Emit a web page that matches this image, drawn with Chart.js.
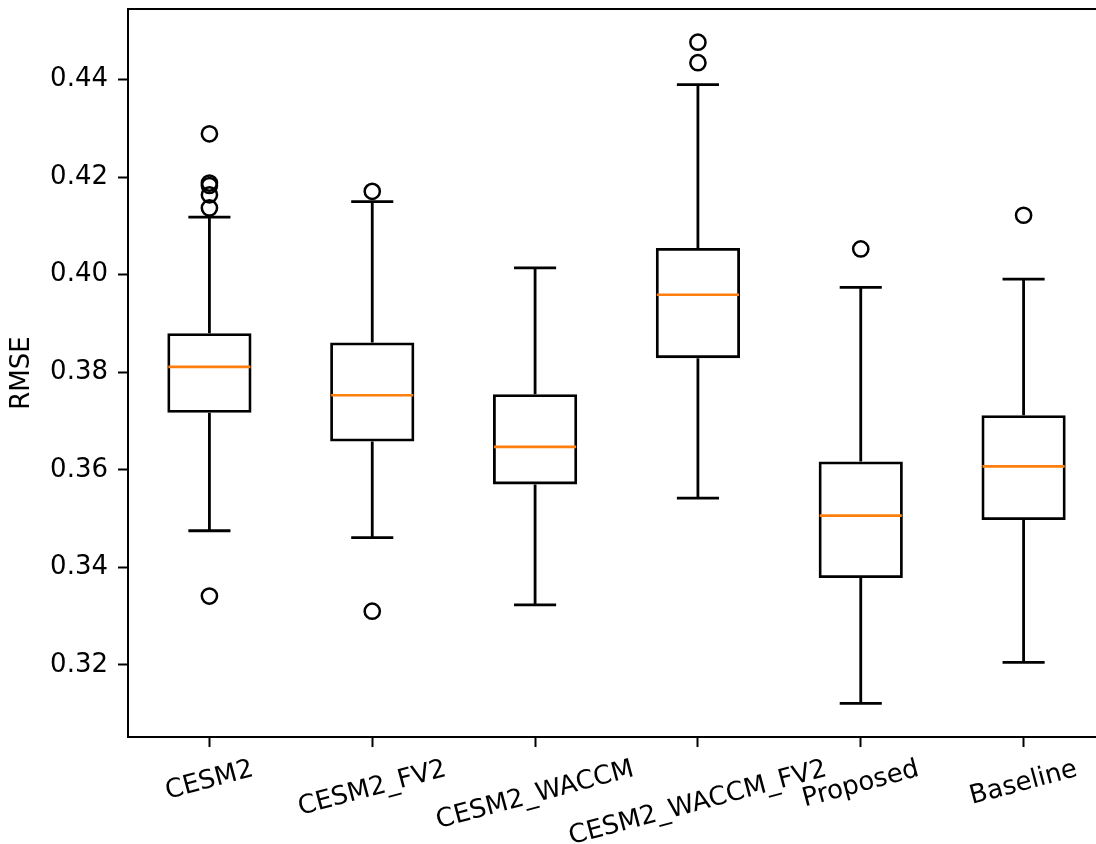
<!DOCTYPE html>
<html>
<head>
<meta charset="utf-8">
<script src="https://cdn.jsdelivr.net/npm/chart.js@4.4.0/dist/chart.umd.min.js"></script>
<style>
  html, body { margin: 0; padding: 0; background: #fff; overflow: hidden; }
  #wrap { width: 1096px; height: 844px; }
</style>
</head>
<body>
<div id="wrap"><canvas id="myChart" width="1096" height="844"></canvas></div>
<script>
// box statistics
const models = ["CESM2", "CESM2_FV2", "CESM2_WACCM", "CESM2_WACCM_FV2", "Proposed", "Baseline"];
const whiskerLow = [0.3475, 0.3461, 0.3323, 0.3542, 0.3121, 0.3205];
const q1 = [0.3717, 0.3658, 0.3570, 0.3829, 0.3378, 0.3497];
const medians = [0.3811, 0.3753, 0.3647, 0.3959, 0.3506, 0.3607];
const q3 = [0.3880, 0.3861, 0.3755, 0.4055, 0.3617, 0.3712];
const whiskerHigh = [0.4118, 0.4150, 0.4014, 0.4390, 0.3974, 0.3991];
const outliers = [
  [0.4289, 0.4188, 0.4183, 0.4164, 0.4137, 0.3341],
  [0.4171, 0.3310],
  [],
  [0.4477, 0.4435],
  [0.4053],
  [0.4122]
];
const yTicks = [0.32, 0.34, 0.36, 0.38, 0.40, 0.42, 0.44];
const positions = [1, 2, 3, 4, 5, 6];

const outlierPoints = [];
outliers.forEach((list, i) => {
  list.forEach((v) => outlierPoints.push({ x: positions[i], y: v }));
});

const FONT_SIZE = 26;
Chart.defaults.font.family = "'DejaVu Sans'";
Chart.defaults.font.size = FONT_SIZE;
Chart.defaults.color = "#000";

// whiskers, caps and medians
const whiskerPlugin = {
  id: "whiskers",
  afterDatasetsDraw(chart) {
    const ctx = chart.ctx;
    const xs = chart.scales.x;
    const ys = chart.scales.y;
    const bars = chart.getDatasetMeta(0).data;
    ctx.save();
    models.forEach((m, i) => {
      const x = xs.getPixelForValue(positions[i]);
      const half = bars[i].width / 2;
      const cap = half / 2;
      ctx.lineWidth = 2.8;
      ctx.strokeStyle = "#000";
      ctx.beginPath();
      ctx.moveTo(x, ys.getPixelForValue(q3[i]));
      ctx.lineTo(x, ys.getPixelForValue(whiskerHigh[i]));
      ctx.moveTo(x, ys.getPixelForValue(q1[i]));
      ctx.lineTo(x, ys.getPixelForValue(whiskerLow[i]));
      ctx.moveTo(x - cap, ys.getPixelForValue(whiskerHigh[i]));
      ctx.lineTo(x + cap, ys.getPixelForValue(whiskerHigh[i]));
      ctx.moveTo(x - cap, ys.getPixelForValue(whiskerLow[i]));
      ctx.lineTo(x + cap, ys.getPixelForValue(whiskerLow[i]));
      ctx.stroke();
      ctx.strokeStyle = "#ff7f0e";
      ctx.lineWidth = 2.6;
      ctx.beginPath();
      ctx.moveTo(x - half + 1, ys.getPixelForValue(medians[i]));
      ctx.lineTo(x + half - 1, ys.getPixelForValue(medians[i]));
      ctx.stroke();
    });
    ctx.restore();
  }
};

// spines (right one is off the picture) + rotated category labels
const framePlugin = {
  id: "frame",
  afterDraw(chart) {
    const ctx = chart.ctx;
    const a = chart.chartArea;
    const xs = chart.scales.x;
    ctx.save();
    ctx.strokeStyle = "#000";
    ctx.lineWidth = 2;
    ctx.beginPath();
    ctx.moveTo(chart.width + 5, a.top);
    ctx.lineTo(a.left, a.top);
    ctx.lineTo(a.left, a.bottom);
    ctx.lineTo(chart.width + 5, a.bottom);
    ctx.stroke();

    const ang = 15 * Math.PI / 180;
    const top = a.bottom + 17.5;
    ctx.font = FONT_SIZE + "px 'DejaVu Sans'";
    ctx.fillStyle = "#000";
    ctx.textAlign = "center";
    ctx.textBaseline = "middle";
    models.forEach((m, i) => {
      const w = ctx.measureText(m).width;
      const bh = w * Math.sin(ang) + FONT_SIZE * 1.16 * Math.cos(ang);
      ctx.save();
      ctx.translate(xs.getPixelForValue(positions[i]), top + bh / 2);
      ctx.rotate(-ang);
      ctx.fillText(m, 0, 0);
      ctx.restore();
    });
    ctx.restore();
  }
};

new Chart("myChart", {
  type: "bar",
  data: {
    datasets: [
      {
        type: "bar",
        data: models.map((m, i) => ({ x: positions[i], y: [q1[i], q3[i]] })),
        backgroundColor: "rgba(0,0,0,0)",
        borderColor: "#000",
        borderWidth: 2.8,
        borderSkipped: false,
        barPercentage: 0.517,
        categoryPercentage: 1,
      },
      {
        type: "scatter",
        data: outlierPoints,
        pointStyle: "circle",
        pointRadius: 7.6,
        pointBorderWidth: 2.5,
        pointBackgroundColor: "rgba(0,0,0,0)",
        pointBorderColor: "#000",
      },
    ],
  },
  options: {
    responsive: false,
    animation: false,
    layout: { autoPadding: false, padding: { top: 9, right: 0, bottom: 0, left: 0 } },
    plugins: { legend: { display: false }, tooltip: { enabled: false } },
    scales: {
      x: {
        type: "linear",
        // matplotlib xlim 0.5..6.5, cut by the picture's right edge
        min: 0.5,
        max: 6.4447,
        offset: false,
        border: { display: false },
        grid: { display: true, offset: false, drawOnChartArea: false, drawTicks: true, tickLength: 10, tickWidth: 2, tickColor: "#000" },
        ticks: { display: false },
        afterBuildTicks: (scale) => {
          scale.ticks = positions.map((v) => ({ value: v }));
        },
        afterFit: (scale) => {
          scale.height = 107;
          scale.paddingLeft = 0;
          scale.paddingRight = 0;
        },
      },
      y: {
        min: 0.3052,
        max: 0.4545,
        border: { display: false },
        grid: { drawOnChartArea: false, drawTicks: true, tickLength: 10, tickWidth: 2, tickColor: "#000" },
        ticks: {
          padding: 10,
          color: "#000",
          font: { size: FONT_SIZE },
          callback: (v) => Number(v).toFixed(2),
        },
        afterBuildTicks: (scale) => {
          scale.ticks = yTicks.map((v) => ({ value: v }));
        },
        title: { display: true, text: "RMSE", color: "#000", font: { size: FONT_SIZE }, padding: { top: 7, bottom: 0 } },
        afterFit: (scale) => {
          scale.width = 128;
          scale.paddingTop = 0;
          scale.paddingBottom = 0;
        },
      },
    },
  },
  plugins: [whiskerPlugin, framePlugin],
});
</script>
</body>
</html>
